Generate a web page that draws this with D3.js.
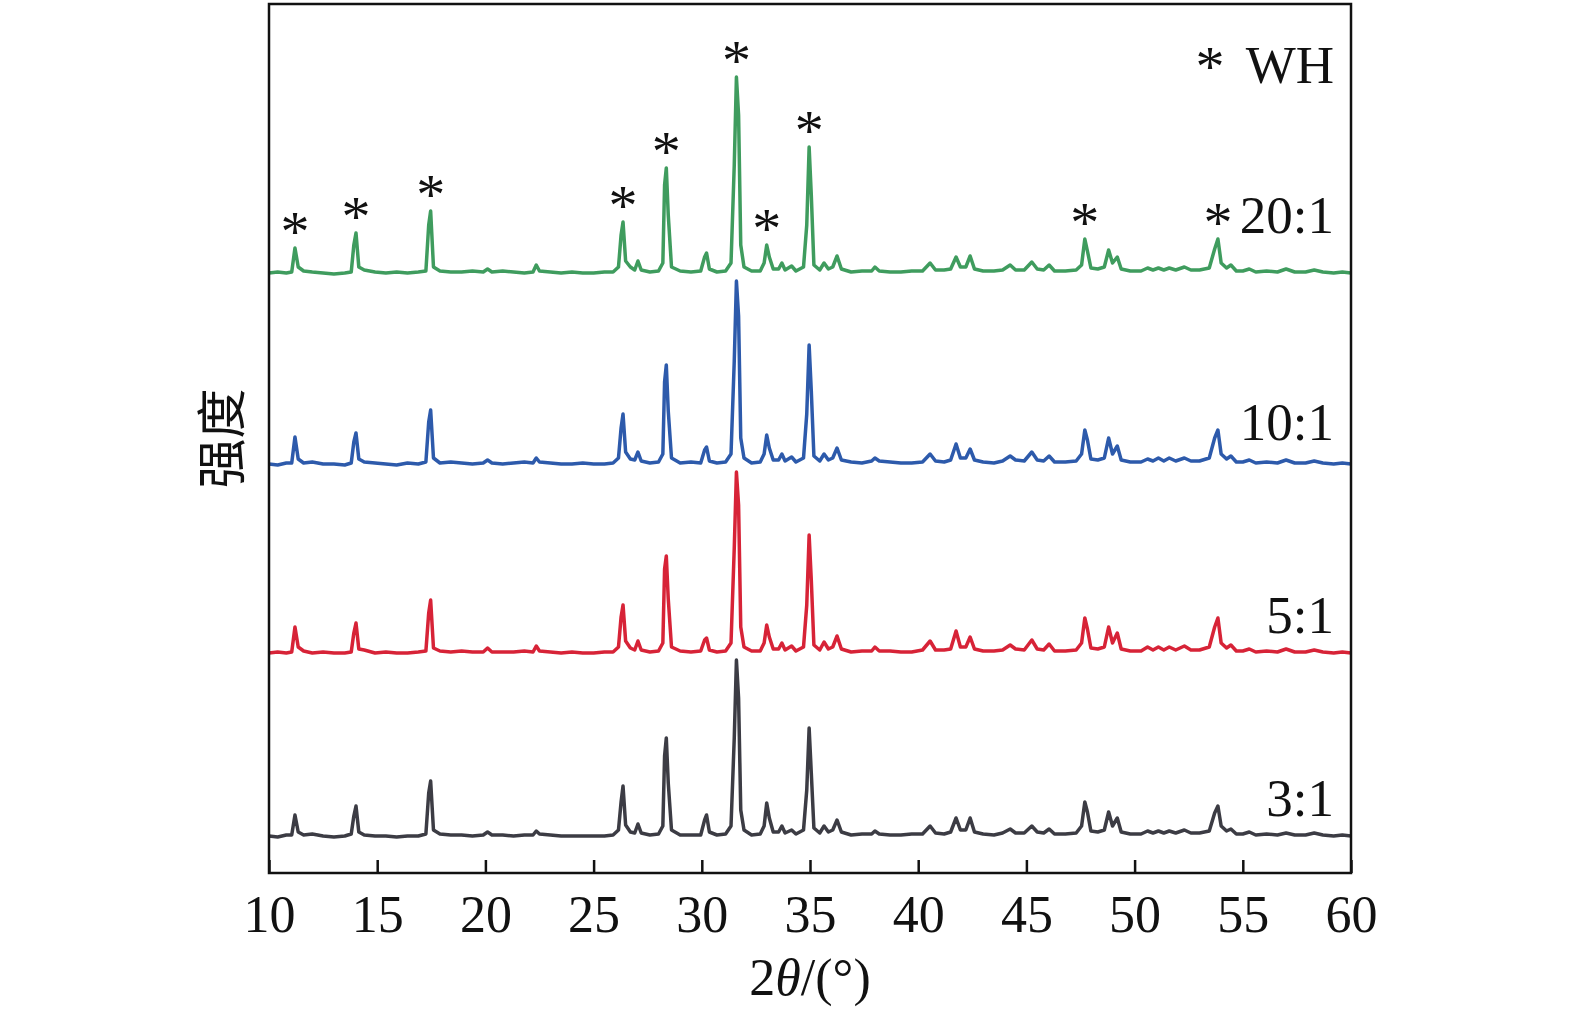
<!DOCTYPE html>
<html>
<head>
<meta charset="utf-8">
<script src="https://cdn.jsdelivr.net/npm/d3@7"></script>
<style>
  body { margin: 0; background: #fff; }
  svg { display: block; }
</style>
</head>
<body>
<div id="chart"></div>
<script>
// 2θ sample positions shared by all four patterns
const twoTheta = [
  10.0, 10.4, 10.8, 11.05, 11.2, 11.35, 11.6, 12.0, 12.5, 13.0,
  13.5, 13.8, 13.92, 14.02, 14.15, 14.4, 14.9, 15.4, 15.9, 16.4,
  16.9, 17.25, 17.38, 17.47, 17.6, 17.9, 18.4, 18.9, 19.4, 19.9,
  20.1, 20.3, 20.8, 21.3, 21.8, 22.2, 22.35, 22.5, 23.0, 23.5,
  24.0, 24.5, 25.0, 25.5, 25.9, 26.15, 26.27, 26.36, 26.48, 26.7,
  26.9, 27.05, 27.2, 27.6, 28.0, 28.2, 28.28, 28.36, 28.45, 28.6,
  29.0, 29.5, 29.95, 30.13, 30.22, 30.35, 30.7, 31.1, 31.35, 31.5,
  31.6, 31.7, 31.8, 31.95, 32.3, 32.7, 32.88, 33.0, 33.12, 33.3,
  33.55, 33.7, 33.85, 34.15, 34.35, 34.7, 34.85, 34.96, 35.06, 35.18,
  35.45, 35.65, 35.85, 36.05, 36.25, 36.45, 36.9, 37.4, 37.85, 38.0,
  38.2, 38.7, 39.2, 39.7, 40.2, 40.55, 40.8, 41.2, 41.5, 41.75,
  41.95, 42.2, 42.4, 42.6, 43.0, 43.5, 43.9, 44.25, 44.5, 44.9,
  45.25, 45.5, 45.8, 46.05, 46.3, 46.8, 47.3, 47.55, 47.7, 47.82,
  47.98, 48.3, 48.6, 48.8, 48.98, 49.2, 49.38, 49.8, 50.3, 50.6,
  50.85, 51.1, 51.35, 51.6, 51.9, 52.3, 52.6, 53.0, 53.45, 53.7,
  53.85, 54.0, 54.25, 54.45, 54.7, 55.0, 55.3, 55.6, 56.1, 56.6,
  57.0, 57.4, 57.9, 58.3, 58.7, 59.2, 59.6, 60.0
];

// intensity above each pattern's own baseline (a.u.)
const i3to1 = [
  2, 1, 3, 3, 23, 6, 3, 4, 2, 1,
  2, 4, 22, 32, 6, 3, 2, 2, 1, 2,
  2, 4, 45, 57, 8, 4, 3, 3, 2, 3,
  6, 3, 3, 2, 3, 3, 7, 4, 3, 2,
  2, 2, 2, 2, 3, 8, 36, 52, 13, 6,
  5, 14, 5, 3, 4, 12, 82, 100, 55, 8,
  3, 3, 3, 18, 23, 6, 3, 4, 12, 100,
  178, 140, 28, 8, 3, 4, 12, 35, 20, 6,
  6, 12, 5, 8, 4, 8, 48, 110, 65, 10,
  5, 12, 6, 8, 18, 6, 3, 4, 4, 7,
  4, 3, 3, 4, 4, 12, 5, 4, 6, 20,
  8, 8, 20, 6, 4, 3, 5, 9, 5, 5,
  12, 6, 5, 9, 4, 4, 5, 12, 36, 26,
  7, 6, 8, 26, 12, 20, 6, 4, 4, 7,
  5, 7, 5, 7, 5, 8, 5, 5, 7, 25,
  32, 12, 7, 9, 4, 4, 6, 3, 4, 3,
  5, 3, 3, 5, 3, 2, 3, 2
];

const i5to1 = [
  2, 3, 2, 3, 28, 8, 4, 2, 3, 2,
  2, 3, 22, 32, 6, 5, 2, 3, 2, 2,
  3, 4, 42, 55, 7, 4, 3, 4, 3, 3,
  7, 3, 3, 3, 4, 3, 9, 4, 3, 2,
  3, 2, 2, 3, 3, 8, 38, 50, 14, 7,
  5, 14, 5, 3, 4, 12, 86, 99, 56, 8,
  4, 3, 4, 15, 17, 5, 3, 4, 12, 107,
  183, 150, 28, 8, 4, 4, 12, 30, 18, 6,
  6, 12, 5, 9, 4, 8, 50, 120, 75, 10,
  5, 13, 6, 8, 19, 6, 3, 4, 4, 8,
  4, 4, 3, 3, 5, 14, 5, 5, 6, 24,
  8, 8, 18, 6, 4, 4, 5, 10, 6, 5,
  15, 6, 5, 11, 4, 4, 5, 12, 37, 26,
  7, 6, 8, 28, 12, 22, 6, 4, 4, 8,
  5, 8, 5, 8, 5, 9, 5, 5, 8, 28,
  37, 12, 7, 10, 4, 4, 6, 3, 4, 3,
  6, 3, 3, 5, 3, 2, 3, 2
];

const i10to1 = [
  2, 1, 3, 3, 29, 7, 3, 4, 2, 2,
  1, 3, 24, 33, 7, 4, 3, 2, 1, 3,
  2, 4, 44, 56, 8, 3, 4, 3, 2, 3,
  6, 3, 2, 3, 4, 3, 8, 4, 3, 2,
  2, 3, 2, 2, 3, 8, 38, 52, 14, 7,
  6, 14, 5, 3, 4, 12, 84, 101, 55, 8,
  3, 4, 3, 16, 19, 5, 3, 4, 12, 105,
  185, 150, 28, 8, 3, 4, 12, 31, 18, 6,
  6, 12, 5, 9, 4, 8, 52, 121, 75, 10,
  5, 12, 6, 8, 18, 6, 4, 3, 5, 8,
  5, 4, 3, 3, 4, 12, 5, 4, 6, 22,
  8, 8, 17, 6, 4, 3, 5, 10, 6, 5,
  14, 6, 5, 10, 4, 4, 5, 12, 36, 26,
  7, 6, 8, 28, 12, 20, 6, 4, 4, 7,
  5, 8, 5, 8, 5, 8, 5, 5, 8, 28,
  36, 12, 7, 10, 4, 4, 6, 3, 4, 3,
  6, 3, 3, 5, 3, 2, 3, 2
];

const i20to1 = [
  2, 3, 2, 3, 27, 8, 4, 3, 2, 1,
  2, 3, 30, 42, 8, 5, 3, 2, 3, 2,
  3, 4, 50, 64, 8, 4, 3, 3, 4, 3,
  6, 3, 4, 3, 2, 3, 10, 4, 3, 2,
  3, 2, 2, 3, 3, 8, 40, 53, 14, 8,
  5, 14, 5, 3, 4, 12, 90, 107, 60, 8,
  4, 3, 4, 18, 22, 6, 3, 4, 12, 110,
  198, 160, 30, 8, 4, 4, 12, 30, 18, 6,
  6, 12, 5, 9, 4, 8, 50, 128, 80, 10,
  5, 12, 6, 8, 19, 6, 3, 4, 4, 8,
  4, 3, 3, 4, 4, 12, 5, 5, 6, 18,
  8, 8, 19, 6, 4, 4, 5, 10, 5, 5,
  13, 6, 5, 10, 4, 4, 5, 10, 36, 24,
  7, 6, 8, 25, 12, 18, 6, 4, 4, 7,
  5, 7, 5, 7, 5, 8, 5, 5, 7, 26,
  36, 12, 7, 10, 4, 4, 6, 3, 4, 3,
  6, 3, 3, 5, 3, 2, 3, 2
];

const seriesNames   = ["3:1", "5:1", "10:1", "20:1"];
const seriesValues  = [i3to1, i5to1, i10to1, i20to1];
const seriesOffsets = [35, 218, 407, 598];   // stacking offset of each pattern (a.u.)
const xTicks = [10, 15, 20, 25, 30, 35, 40, 45, 50, 55, 60];
const whPeaks = [11.2, 14.02, 17.47, 26.36, 28.36, 31.6, 33.0, 34.96, 47.7, 53.85];

// ── layout ───────────────────────────────────────────────────────────────
const W = 1575, H = 1016;
const margin = { top: 4, right: 224, bottom: 143, left: 269 };
const width  = W - margin.left - margin.right;
const height = H - margin.top - margin.bottom;

const COLORS = ["#3c3c44", "#d72337", "#2d5aab", "#3f9c5e"];
const SERIF  = "'Liberation Serif', 'Times New Roman', serif";
const LABEL_Y = [816, 633, 440, 233];   // baselines of the series labels (px)
const STAR_SIZE = 58;

const svg = d3.select("#chart")
  .append("svg")
    .attr("width", W)
    .attr("height", H)
  .append("g")
    .attr("transform", `translate(${margin.left},${margin.top})`);

const x = d3.scaleLinear().domain([10, 60]).range([0, width]);
const y = d3.scaleLinear().domain([0, height]).range([height, 0]);

// Patterns
const line = d3.line()
  .x(d => x(d[0]))
  .y(d => y(d[1]));

seriesValues.forEach((vals, k) => {
  const pts = twoTheta.map((t, i) => [t, vals[i] + seriesOffsets[k]]);
  svg.append("path")
    .datum(pts)
    .attr("fill", "none")
    .attr("stroke", COLORS[k])
    .attr("stroke-width", 3.5)
    .attr("stroke-linejoin", "round")
    .attr("d", line);
});

// WH markers over the 20:1 pattern
const topSeries = seriesValues[3];
whPeaks.forEach(p => {
  let best = 0;
  twoTheta.forEach((t, i) => { if (Math.abs(t - p) < 0.2) best = Math.max(best, topSeries[i]); });
  svg.append("text")
    .attr("x", x(p))
    .attr("y", y(best + seriesOffsets[3]) + 3)
    .attr("text-anchor", "middle")
    .attr("font-family", SERIF)
    .attr("font-size", STAR_SIZE)
    .attr("fill", "#111")
    .text("*");
});

// Series labels
seriesNames.forEach((name, k) => {
  svg.append("text")
    .attr("x", 1334 - margin.left)
    .attr("y", LABEL_Y[k] - margin.top)
    .attr("text-anchor", "end")
    .attr("font-family", SERIF)
    .attr("font-size", 53)
    .attr("fill", "#111")
    .text(name);
});

// Legend "* WH"
svg.append("text")
  .attr("x", 1210 - margin.left)
  .attr("y", 86 - margin.top)
  .attr("text-anchor", "middle")
  .attr("font-family", SERIF)
  .attr("font-size", STAR_SIZE)
  .attr("fill", "#111")
  .text("*");

svg.append("text")
  .attr("x", 1334 - margin.left)
  .attr("y", 83 - margin.top)
  .attr("text-anchor", "end")
  .attr("font-family", SERIF)
  .attr("font-size", 53)
  .attr("fill", "#111")
  .text("WH");

// Axis (ticks pointing inward)
const xAxis = d3.axisBottom(x)
  .tickValues(xTicks)
  .tickFormat(d3.format("d"))
  .tickSize(-13)
  .tickPadding(22);

const gx = svg.append("g")
  .attr("transform", `translate(0,${height})`)
  .call(xAxis);

gx.select(".domain").remove();
gx.selectAll(".tick line").attr("stroke", "#111").attr("stroke-width", 2.5);
gx.selectAll(".tick text")
  .attr("font-family", SERIF)
  .attr("font-size", 52)
  .attr("fill", "#111");

// Frame
svg.append("rect")
  .attr("x", 0).attr("y", 0)
  .attr("width", width).attr("height", height)
  .attr("fill", "none")
  .attr("stroke", "#111")
  .attr("stroke-width", 2.5);

// Axis titles
const xt = svg.append("text")
  .attr("x", width / 2)
  .attr("y", 995 - margin.top)
  .attr("text-anchor", "middle")
  .attr("font-family", SERIF)
  .attr("font-size", 52)
  .attr("fill", "#111");
xt.append("tspan").text("2");
xt.append("tspan").attr("font-style", "italic").text("θ");
xt.append("tspan").text("/(°)");

svg.append("text")
  .attr("transform", `translate(${222 - margin.left + 18},${height / 2}) rotate(-90)`)
  .attr("text-anchor", "middle")
  .attr("font-family", "'Noto Sans CJK SC', sans-serif")
  .attr("font-size", 50)
  .attr("fill", "#111")
  .text("强度");
</script>
</body>
</html>
